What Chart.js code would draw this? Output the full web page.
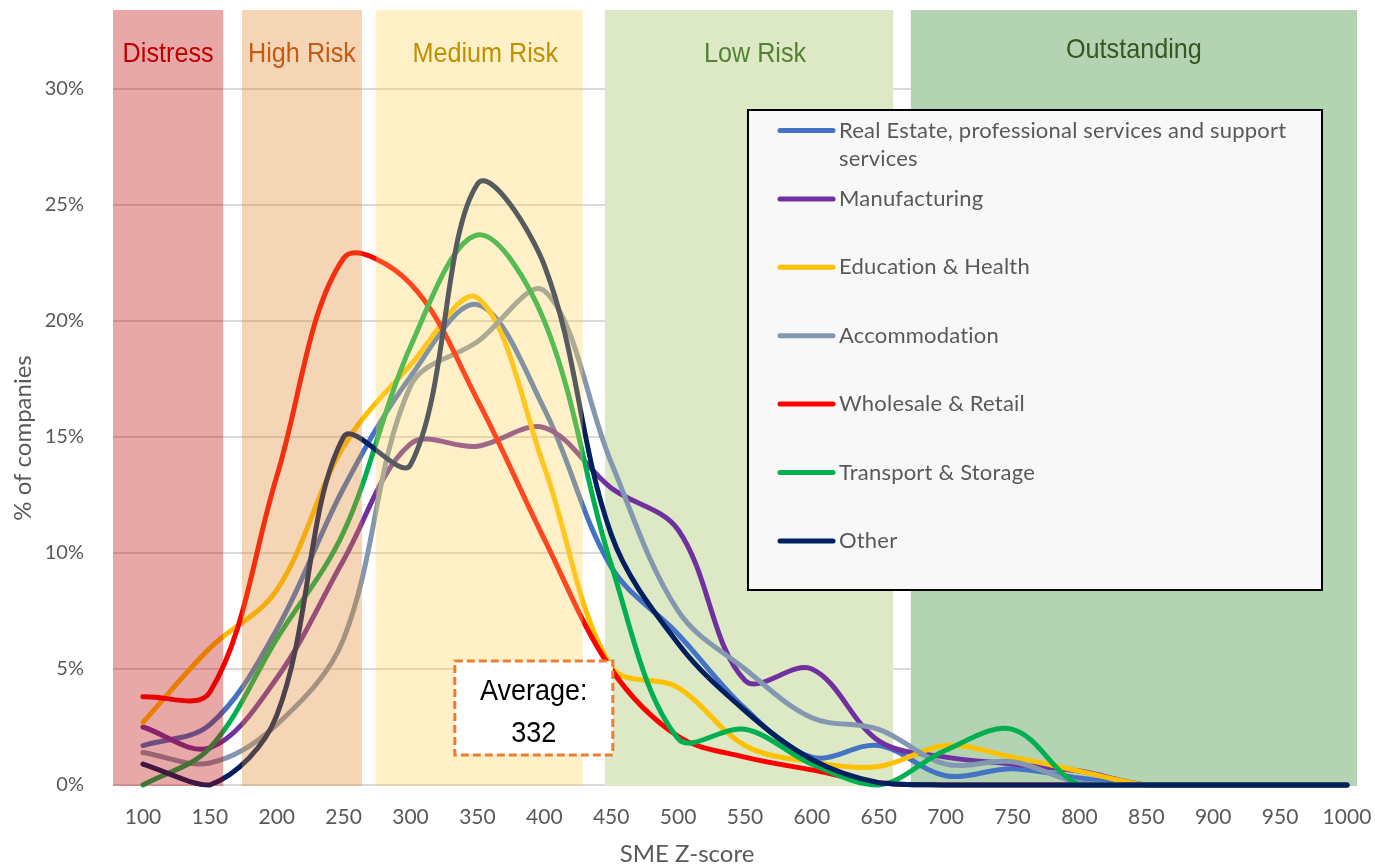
<!DOCTYPE html>
<html>
<head>
<meta charset="utf-8">
<script src="https://cdn.jsdelivr.net/npm/chart.js@4"></script>
<style>
  body { margin: 0; background: #fff; }
  #wrap { width: 1375px; height: 865px; }
</style>
</head>
<body>
<div id="wrap"><canvas id="chart" width="1375" height="865"></canvas></div>
<script>
// SME Z-score buckets
const scores = [100, 150, 200, 250, 300, 350, 400, 450, 500, 550, 600, 650, 700, 750, 800, 850, 900, 950, 1000];

// % of companies per sector
const realEstate    = [1.7, 2.6, 6.7, 12.8, 17.6, 20.7, 16.2, 9.4, 6.5, 3.3, 1.2, 1.7, 0.4, 0.7, 0.3, 0, 0, 0, 0];
const manufacturing = [2.5, 1.6, 4.6, 9.7, 14.7, 14.6, 15.4, 12.8, 11.0, 4.5, 5.0, 1.9, 1.2, 0.9, 0.6, 0, 0, 0, 0];
const education     = [2.7, 5.9, 8.4, 14.6, 18.1, 21.0, 13.7, 5.1, 4.2, 1.7, 1.0, 0.8, 1.7, 1.2, 0.6, 0, 0, 0, 0];
const accommodation = [1.4, 0.95, 2.6, 6.3, 17.2, 19.1, 21.3, 13.9, 7.5, 5.0, 2.9, 2.4, 0.9, 1.0, 0.1, 0, 0, 0, 0];
const wholesale     = [3.8, 4.0, 13.3, 22.7, 21.6, 16.6, 10.6, 5.0, 2.1, 1.2, 0.65, 0.1, 0, 0, 0, 0, 0, 0, 0];
const transport     = [0, 1.6, 6.3, 10.9, 18.9, 23.7, 20.0, 9.5, 2.0, 2.4, 0.9, 0, 1.5, 2.4, 0, 0, 0, 0, 0];
const other         = [0.9, 0, 3.0, 15.0, 13.8, 25.9, 22.4, 10.8, 6.1, 3.2, 1.1, 0.1, 0, 0, 0, 0, 0, 0, 0];

const seriesNames = ['Real Estate, professional services and support services', 'Manufacturing',
  'Education & Health', 'Accommodation', 'Wholesale & Retail', 'Transport & Storage', 'Other'];
const seriesValues = [realEstate, manufacturing, education, accommodation, wholesale, transport, other];
const seriesColors = ['#4472C4', '#7030A0', '#FFC000', '#8497B0', '#FF0000', '#00B050', '#002060'];

// risk bands on the Z-score axis
const bandNames = ['Distress', 'High Risk', 'Medium Risk', 'Low Risk', 'Outstanding'];
const bandFrom  = [77.6, 174, 274, 445.3, 674];
const bandTo    = [160, 263.7, 428.7, 660.8, 1007.5];
const bandFill  = ['rgba(189,6,6,0.35)', 'rgba(224,135,44,0.35)', 'rgba(255,210,90,0.333)', '#DDE9C4', '#B4D3B2'];
const bandOnTop = [true, true, true, false, false];
const bandText  = ['#C00000', '#C55A11', '#BF9000', '#548235', '#375623'];

const yTicks = [0, 5, 10, 15, 20, 25, 30];
const averageScore = 332;

const uiFont = "Lato, 'Open Sans', sans-serif";
const arialFont = "'Liberation Sans', Arial, sans-serif";
const grey = '#595959';

function drawBands(chart, onTop) {
    const {ctx, chartArea, scales: {x}} = chart;
    ctx.save();
    bandNames.forEach((name, i) => {
        if (bandOnTop[i] !== onTop) return;
        const left = x.getPixelForValue(bandFrom[i]);
        const right = x.getPixelForValue(bandTo[i]);
        ctx.fillStyle = bandFill[i];
        ctx.fillRect(left, chartArea.top, right - left, chartArea.bottom - chartArea.top + 1);
    });
    ctx.restore();
}

function squeezedText(ctx, text, x, y, font, color, sx) {
    ctx.save();
    ctx.font = font;
    ctx.fillStyle = color;
    ctx.textAlign = 'center';
    ctx.textBaseline = 'alphabetic';
    ctx.translate(x, y);
    ctx.scale(sx, 1);
    ctx.fillText(text, 0, 0);
    ctx.restore();
}

function wrapWords(ctx, text, maxWidth) {
    const words = text.split(' ');
    const lines = [];
    let line = '';
    words.forEach(w => {
        const test = line ? line + ' ' + w : w;
        if (ctx.measureText(test).width > maxWidth && line) {
            lines.push(line);
            line = w;
        } else {
            line = test;
        }
    });
    lines.push(line);
    return lines;
}

const decorPlugin = {
    id: 'decor',
    beforeDatasetsDraw(chart) {
        drawBands(chart, false);
    },
    afterDatasetsDraw(chart) {
        const {ctx, chartArea, scales: {x}} = chart;
        drawBands(chart, true);

        // band labels
        bandNames.forEach((name, i) => {
            const cx = (x.getPixelForValue(bandFrom[i]) + x.getPixelForValue(bandTo[i])) / 2;
            const cy = chartArea.top + (i === 4 ? 48 : 52);
            squeezedText(ctx, name, cx + (i === 2 || i === 3 ? 6 : 0), cy, '28px ' + arialFont, bandText[i], 0.9);
        });

        // average callout
        const boxL = x.getPixelForValue(averageScore) + 1.5;
        const boxT = 661, boxW = 158, boxH = 94;
        ctx.save();
        ctx.fillStyle = '#fff';
        ctx.fillRect(boxL, boxT, boxW, boxH);
        ctx.strokeStyle = '#ED7D31';
        ctx.lineWidth = 3;
        ctx.setLineDash([8, 4]);
        ctx.strokeRect(boxL, boxT, boxW, boxH);
        ctx.restore();
        squeezedText(ctx, 'Average:', boxL + boxW / 2, boxT + 39, '30px ' + arialFont, '#000', 0.9);
        squeezedText(ctx, String(averageScore), boxL + boxW / 2, boxT + 81, '30px ' + arialFont, '#000', 0.9);

        // legend box
        const lx = 748, ly = 110, lw = 574, lh = 480;
        ctx.save();
        ctx.fillStyle = '#F8F8F8';
        ctx.fillRect(lx, ly, lw, lh);
        ctx.strokeStyle = '#000';
        ctx.lineWidth = 2;
        ctx.strokeRect(lx, ly, lw, lh);
        ctx.font = '22px ' + uiFont;
        ctx.letterSpacing = '0.2px';
        ctx.textBaseline = 'middle';
        seriesNames.forEach((name, i) => {
            const y = ly + 20.5 + i * 68.4;
            ctx.strokeStyle = seriesColors[i];
            ctx.lineWidth = 5;
            ctx.lineCap = 'round';
            ctx.beginPath();
            ctx.moveTo(lx + 32, y);
            ctx.lineTo(lx + 85, y);
            ctx.stroke();
            ctx.fillStyle = grey;
            wrapWords(ctx, name, 465).forEach((t, k) => ctx.fillText(t, lx + 91, y + k * 28));
        });
        ctx.restore();

        // axis titles
        ctx.save();
        ctx.font = '24px ' + uiFont;
        ctx.fillStyle = grey;
        ctx.textAlign = 'center';
        ctx.textBaseline = 'alphabetic';
        ctx.fillText('SME Z-score', 687, 862);
        ctx.translate(31, 438);
        ctx.rotate(-Math.PI / 2);
        ctx.fillText('% of companies', 0, 0);
        ctx.restore();
    }
};

const datasets = seriesNames.map((name, i) => ({
    label: name,
    data: scores.map((s, j) => ({ x: s, y: seriesValues[i][j] })),
    borderColor: seriesColors[i],
    backgroundColor: seriesColors[i],
    borderWidth: 5,
    borderCapStyle: 'round',
    borderJoinStyle: 'round',
    pointRadius: 0,
    tension: 0.35,
    fill: false,
    clip: 3,
    order: seriesNames.length - i
}));

new Chart(document.getElementById('chart'), {
    type: 'line',
    data: { datasets: datasets },
    options: {
        responsive: false,
        animation: false,
        events: [],
        layout: { padding: { top: 10, right: 18, left: 0, bottom: 0 } },
        plugins: {
            legend: { display: false },
            tooltip: { enabled: false }
        },
        scales: {
            x: {
                type: 'linear',
                min: 77.6,
                max: 1007.5,
                afterBuildTicks: scale => { scale.ticks = scores.map(v => ({ value: v })); },
                afterFit: scale => {
                    scale.height = 80;
                    scale.paddingLeft = 0;
                    scale.paddingRight = 0;
                },
                grid: { display: false, drawTicks: false },
                border: { display: false },
                ticks: {
                    color: grey,
                    font: { family: uiFont, size: 21 },
                    padding: 20,
                    maxRotation: 0,
                    autoSkip: false,
                    callback: v => String(v)
                }
            },
            y: {
                min: 0,
                max: 33.4,
                afterBuildTicks: scale => { scale.ticks = yTicks.map(v => ({ value: v })); },
                afterFit: scale => {
                    scale.width = 113;
                    scale.paddingTop = 0;
                    scale.paddingBottom = 0;
                },
                grid: { color: '#D9D9D9', lineWidth: 2, drawTicks: false },
                border: { display: false },
                ticks: {
                    color: grey,
                    font: { family: uiFont, size: 20 },
                    padding: 29,
                    callback: v => v + '%'
                }
            }
        }
    },
    plugins: [decorPlugin]
});
</script>
</body>
</html>
